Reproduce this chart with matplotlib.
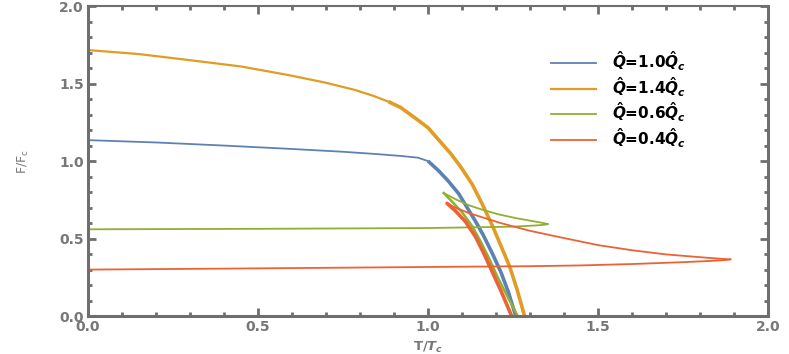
import numpy as np
import matplotlib.pyplot as plt
from matplotlib.ticker import MultipleLocator

# Q = 1.0 Qc
blue_x1 = [0.0, 0.2, 0.4, 0.6, 0.75, 0.85, 0.92, 0.97, 1.0]
blue_y1 = [1.135, 1.12, 1.1, 1.078, 1.06, 1.045, 1.033, 1.022, 1.0]
blue_x2 = [1.0, 1.03, 1.06, 1.09, 1.115, 1.14, 1.163, 1.19, 1.215, 1.237, 1.258]
blue_y2 = [1.0, 0.94, 0.87, 0.79, 0.70, 0.61, 0.52, 0.40, 0.28, 0.15, 0.0]

# Q = 1.4 Qc
orange_x1 = [0.0, 0.15, 0.295, 0.45, 0.589, 0.7, 0.786, 0.84, 0.884]
orange_y1 = [1.716, 1.69, 1.652, 1.61, 1.555, 1.505, 1.458, 1.42, 1.383]
orange_x2 = [0.884, 0.92, 0.943, 0.97, 1.0, 1.03, 1.066, 1.096, 1.13, 1.16,
             1.19, 1.215, 1.24, 1.262, 1.284]
orange_y2 = [1.383, 1.345, 1.308, 1.265, 1.215, 1.14, 1.05, 0.963, 0.85, 0.72,
             0.58, 0.45, 0.32, 0.17, 0.0]

# Q = 0.6 Qc
green_x1 = [0.0, 0.5, 1.0, 1.25, 1.32, 1.345, 1.352]
green_y1 = [0.56, 0.563, 0.568, 0.577, 0.585, 0.59, 0.594]
green_x2 = [1.352, 1.34, 1.31, 1.263, 1.21, 1.163, 1.12, 1.08, 1.046]
green_y2 = [0.594, 0.60, 0.612, 0.63, 0.655, 0.684, 0.715, 0.755, 0.794]
green_x3 = [1.046, 1.07, 1.10, 1.13, 1.155, 1.18, 1.205, 1.235, 1.264]
green_y3 = [0.794, 0.74, 0.67, 0.58, 0.48, 0.37, 0.25, 0.12, 0.0]

# Q = 0.4 Qc
red_x1 = [0.0, 0.5, 1.06, 1.3, 1.45, 1.6, 1.75, 1.84, 1.875, 1.889]
red_y1 = [0.30, 0.308, 0.318, 0.322, 0.327, 0.336, 0.348, 0.357, 0.362, 0.366]
red_x2 = [1.889, 1.86, 1.8, 1.7, 1.6, 1.5, 1.39, 1.3, 1.214, 1.17, 1.12, 1.08, 1.054]
red_y2 = [0.366, 0.37, 0.38, 0.398, 0.425, 0.458, 0.508, 0.55, 0.60, 0.63, 0.665, 0.70, 0.731]
red_x3 = [1.054, 1.08, 1.11, 1.14, 1.165, 1.19, 1.215, 1.246]
red_y3 = [0.731, 0.68, 0.61, 0.51, 0.40, 0.28, 0.16, 0.0]

labels = [r'$\hat{Q}$=1.0$\hat{Q}_c$', r'$\hat{Q}$=1.4$\hat{Q}_c$',
          r'$\hat{Q}$=0.6$\hat{Q}_c$', r'$\hat{Q}$=0.4$\hat{Q}_c$']
colors = ['#5e81b5', '#e19c24', '#8fb032', '#eb6235']

plt.rcParams['mathtext.fontset'] = 'custom'
plt.rcParams['mathtext.it'] = 'DejaVu Sans:bold:italic'
plt.rcParams['mathtext.rm'] = 'DejaVu Sans:bold'

fig = plt.figure(figsize=(7.89, 3.54), dpi=100)
ax = fig.add_axes([0.1115, 0.107, 0.862, 0.876])

ax.plot(blue_x1, blue_y1, color=colors[0], lw=1.3, label=labels[0])
ax.plot(blue_x2, blue_y2, color=colors[0], lw=2.6, solid_capstyle='butt')
ax.plot(orange_x1, orange_y1, color=colors[1], lw=1.6, label=labels[1])
ax.plot(orange_x2, orange_y2, color=colors[1], lw=2.6, solid_capstyle='butt')
ax.plot(green_x1, green_y1, color=colors[2], lw=1.3, label=labels[2])
ax.plot(green_x2, green_y2, color=colors[2], lw=1.3)
ax.plot(green_x3, green_y3, color=colors[2], lw=1.8)
ax.plot(red_x1, red_y1, color=colors[3], lw=1.3, label=labels[3])
ax.plot(red_x2, red_y2, color=colors[3], lw=1.3)
ax.plot(red_x3, red_y3, color=colors[3], lw=2.6, solid_capstyle='butt')

ax.set_xlim(0, 2)
ax.set_ylim(0, 2)
ax.xaxis.set_major_locator(MultipleLocator(0.5))
ax.xaxis.set_minor_locator(MultipleLocator(0.1))
ax.yaxis.set_major_locator(MultipleLocator(0.5))
ax.yaxis.set_minor_locator(MultipleLocator(0.1))

gray = '#6e6e6e'
for side in ['left', 'bottom', 'right']:
    ax.spines[side].set_linewidth(2.2)
    ax.spines[side].set_color(gray)
ax.spines['top'].set_linewidth(1.5)
ax.spines['top'].set_color(gray)
ax.tick_params(which='both', direction='in', top=True, right=True, color=gray,
               width=2, labelcolor='#777777')
ax.tick_params(which='major', length=6, labelsize=10, pad=3)
ax.tick_params(which='minor', length=3)
for lab in ax.get_xticklabels() + ax.get_yticklabels():
    lab.set_fontweight('bold')

ax.set_xlabel(r'T/$T_c$', color='#777777', fontsize=9.5, fontweight='bold', labelpad=4)
ax.set_ylabel(r'F/F$_\mathregular{c}$', color='#777777', fontsize=9, labelpad=20)

leg = ax.legend(loc='upper left', bbox_to_anchor=(0.66, 0.905), frameon=False,
                fontsize=11, handlelength=3.0, handletextpad=1.0, labelspacing=0.14)
for t in leg.get_texts():
    t.set_fontweight('bold')

plt.savefig('out.png', dpi=100)
